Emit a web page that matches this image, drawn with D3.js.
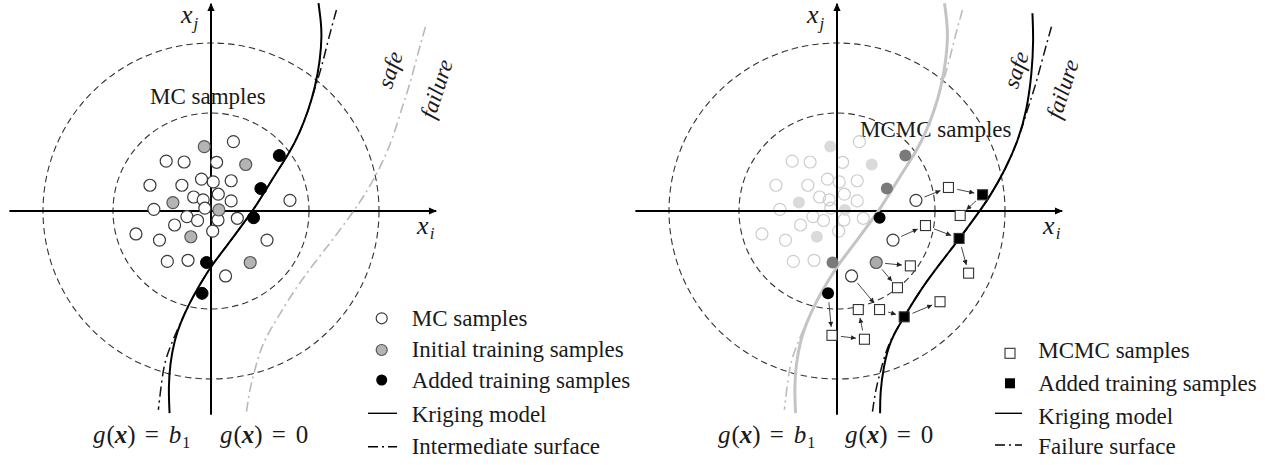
<!DOCTYPE html>
<html><head><meta charset="utf-8">
<script src="https://cdn.jsdelivr.net/npm/d3@7"></script>
<style>
body{margin:0;background:#fff;}
svg{display:block;}
text{font-family:"Liberation Serif","Times New Roman",serif;fill:#1a1a1a;}
</style></head><body>
<svg id="chart" width="1271" height="465"></svg>
<script>
// ---------- data: coordinates in standard-normal space (x_i, x_j) ----------
const contourRadii = [1.75, 3.0];
const axisExtentX = [-3.6, 4.02];
const axisExtentY = [-3.64, 3.7];

// Monte Carlo population
const mcSamples = [
  [0.40,1.24],[-0.80,0.89],[-0.48,0.875],[0.10,0.87],[-1.09,0.46],[-0.52,0.46],
  [-0.17,0.57],[0.04,0.52],[0.36,0.54],[-0.31,0.25],[0.13,0.30],[-0.14,0.20],
  [0.36,0.18],[1.41,0.19],[-1.02,0.03],[-0.11,0.05],[-0.43,-0.10],[-0.24,-0.17],
  [0.125,-0.16],[0.47,-0.13],[-0.65,-0.25],[0.03,-0.36],[-1.34,-0.41],[-0.92,-0.52],
  [1.00,-0.52],[-0.78,-0.90],[-0.41,-0.88],[0.26,-1.16]
];
const initialSamples = [[-0.12,1.15],[0.62,0.83],[-0.68,0.15],[0.14,0.02],[-0.36,-0.46],[0.70,-0.92]];
const addedSamplesStage1 = [[1.22,0.99],[0.89,0.40],[0.76,-0.12],[-0.08,-0.92],[-0.16,-1.47]];
// fill of the stage-1 added samples when shown again in stage 2
const addedStage1Fill = ["#7a7a7a","#7a7a7a","#000","#7a7a7a","#000"];

// limit-state curves
const krigingStage1 = [
  [1.92,3.71],[1.96,3.41],[1.98,3.14],[1.95,2.70],[1.86,2.21],[1.74,1.80],[1.58,1.39],
  [1.43,1.09],[1.12,0.61],[0.80,0.08],[0.58,-0.22],[0.27,-0.64],[0.02,-0.96],[-0.15,-1.23],
  [-0.39,-1.65],[-0.55,-2.01],[-0.65,-2.30],[-0.73,-2.72],[-0.76,-3.14],[-0.74,-3.61]
];
const intermediateSurface = [
  [2.24,3.59],[2.09,3.05],[1.98,2.58],[1.86,2.21],[1.74,1.80],[1.58,1.39],
  [1.43,1.09],[1.12,0.61],[0.80,0.08],[0.58,-0.22],[0.27,-0.64],[0.02,-0.96],[-0.15,-1.23],
  [-0.39,-1.65],[-0.55,-2.01],[-0.68,-2.30],[-0.82,-2.66],[-0.88,-3.02],[-0.94,-3.55]
];
const failureSurface = [
  [3.83,3.29],[3.68,2.76],[3.54,2.22],[3.41,1.85],[3.24,1.27],[3.00,0.73],[2.73,0.26],
  [2.52,-0.04],[2.17,-0.52],[1.56,-1.29],[1.20,-1.89],[0.95,-2.30],[0.84,-2.62],
  [0.74,-3.00],[0.68,-3.25],[0.63,-3.61]
];
const krigingStage2 = [
  [3.49,3.53],[3.51,3.05],[3.48,2.46],[3.39,1.80],[3.24,1.27],[3.00,0.73],[2.73,0.26],
  [2.52,-0.04],[2.17,-0.52],[1.56,-1.29],[1.20,-1.89],[0.95,-2.30],[0.83,-2.78],[0.77,-3.25],[0.77,-3.61]
];

// Markov chain samples and the added training points of stage 2
const mcmcSamples = [
  [1.99,0.42],[2.20,-0.08],[1.58,-0.26],[1.31,-0.98],[1.08,-1.37],[2.35,-1.11],
  [0.38,-1.76],[0.76,-1.76],[1.84,-1.62],[-0.09,-2.22],[0.49,-2.29]
];
const addedSamplesStage2 = [[2.60,0.29],[2.18,-0.49],[1.20,-1.89]];
const activeMC = [13,24,27];
const activeInitial = [5];
const mcmcMoves = [
  ["mc",13,"sq",0],["sq",0,"add2",0],["add2",0,"sq",1],
  ["mc",24,"sq",2],["sq",2,"add2",1],["add2",1,"sq",5],
  ["init",5,"sq",3],["init",5,"sq",4],
  ["mc",27,"sq",7],["sq",7,"add2",2],["add2",2,"sq",8],
  ["add1",4,"sq",9],["sq",9,"sq",10],["sq",10,"sq",6]
];

const legendLeft = ["MC samples","Initial training samples","Added training samples","Kriging model","Intermediate surface"];
const legendRight = ["MCMC samples","Added training samples","Kriging model","Failure surface"];

// ---------- drawing ----------
const svg = d3.select("#chart");
const UNIT = 56, OY = 211;
const DASHDOT = "10,4,2,4";

const defs = svg.append("defs");
defs.append("marker").attr("id","axisHead").attr("viewBox","0 0 10 10")
  .attr("refX",9).attr("refY",5).attr("markerWidth",9).attr("markerHeight",8)
  .attr("markerUnits","userSpaceOnUse").attr("orient","auto")
  .append("path").attr("d","M0,0.5 L10,5 L0,9.5 Z").attr("fill","#000");
defs.append("marker").attr("id","moveHead").attr("viewBox","0 0 10 10")
  .attr("refX",10).attr("refY",5).attr("markerWidth",6).attr("markerHeight",5)
  .attr("markerUnits","userSpaceOnUse").attr("orient","auto")
  .append("path").attr("d","M0,0 L10,5 L0,10 Z").attr("fill","#222");

function scales(ox){
  return {
    x: d3.scaleLinear().domain([-1,1]).range([ox-UNIT, ox+UNIT]),
    y: d3.scaleLinear().domain([-1,1]).range([OY+UNIT, OY-UNIT])
  };
}

function drawFrame(g, s){
  contourRadii.forEach(r => {
    g.append("circle").attr("cx", s.x(0)).attr("cy", s.y(0))
      .attr("r", s.x(r) - s.x(0))
      .attr("fill","none").attr("stroke","#333").attr("stroke-width",1.1)
      .attr("stroke-dasharray","6.5,4");
  });
}
function drawAxes(g, s){
  g.append("line").attr("x1", s.x(axisExtentX[0])).attr("x2", s.x(axisExtentX[1]))
    .attr("y1", s.y(0)).attr("y2", s.y(0))
    .attr("stroke","#000").attr("stroke-width",2).attr("marker-end","url(#axisHead)");
  g.append("line").attr("x1", s.x(0)).attr("x2", s.x(0))
    .attr("y1", s.y(axisExtentY[0])).attr("y2", s.y(axisExtentY[1]))
    .attr("stroke","#000").attr("stroke-width",2).attr("marker-end","url(#axisHead)");
  // axis names
  const xj = g.append("text").attr("x", s.x(0) - 30).attr("y", 23).attr("font-size",26);
  xj.append("tspan").attr("font-style","italic").text("x");
  xj.append("tspan").attr("font-style","italic").attr("font-size",17).attr("dy",6).attr("dx",1).text("j");
  const xi = g.append("text").attr("x", s.x(axisExtentX[1]) - 19).attr("y", 234).attr("font-size",26);
  xi.append("tspan").attr("font-style","italic").text("x");
  xi.append("tspan").attr("font-style","italic").attr("font-size",17).attr("dy",5).attr("dx",1).text("i");
}
const lineGen = s => d3.line().x(d => s.x(d[0])).y(d => s.y(d[1])).curve(d3.curveBasis);

function drawCurve(g, s, pts, stroke, width, dash){
  const p = g.append("path").attr("d", lineGen(s)(pts)).attr("fill","none")
    .attr("stroke", stroke).attr("stroke-width", width);
  if (dash) p.attr("stroke-dasharray", dash);
}
function circles(g, s, pts, fill, stroke, sw){
  g.selectAll(null).data(pts).enter().append("circle")
    .attr("cx", d => s.x(d[0])).attr("cy", d => s.y(d[1])).attr("r", 6)
    .attr("fill", fill).attr("stroke", stroke).attr("stroke-width", sw);
}
function squares(g, s, pts, fill){
  g.selectAll(null).data(pts).enter().append("rect")
    .attr("x", d => s.x(d[0]) - 5).attr("y", d => s.y(d[1]) - 5)
    .attr("width", 10).attr("height", 10)
    .attr("fill", fill).attr("stroke", "#333").attr("stroke-width", 1.1);
}
function regionLabels(g, s){
  g.append("text").attr("transform", `translate(${s.x(3.2)},${s.y(2.52)}) rotate(-72)`)
    .attr("text-anchor","middle").attr("dominant-baseline","central")
    .attr("font-size",23).attr("font-style","italic").text("safe");
  g.append("text").attr("transform", `translate(${s.x(4.03)},${s.y(2.18)}) rotate(-72)`)
    .attr("text-anchor","middle").attr("dominant-baseline","central")
    .attr("font-size",23).attr("font-style","italic").text("failure");
}
function surfaceLabels(g, x0){
  const a = g.append("text").attr("x", x0).attr("y", 443).attr("font-size",25);
  a.append("tspan").attr("font-style","italic").text("g");
  a.append("tspan").attr("dx",1).text("(");
  a.append("tspan").attr("font-style","italic").attr("font-weight","bold").text("x");
  a.append("tspan").text(")");
  a.append("tspan").attr("dx",9).text("=");
  a.append("tspan").attr("dx",10).attr("font-style","italic").text("b");
  a.append("tspan").attr("font-size",16).attr("dy",5).attr("dx",1).text("1");
  const b = g.append("text").attr("x", x0 + 127).attr("y", 443).attr("font-size",25);
  b.append("tspan").attr("font-style","italic").text("g");
  b.append("tspan").attr("dx",1).text("(");
  b.append("tspan").attr("font-style","italic").attr("font-weight","bold").text("x");
  b.append("tspan").text(")");
  b.append("tspan").attr("dx",9).text("=");
  b.append("tspan").attr("dx",10).text("0");
}

// ===== Stage 1: MC population with initial Kriging model =====
const L = svg.append("g");
const sL = scales(211);
drawFrame(L, sL);
L.append("text").attr("x",150).attr("y",104).attr("font-size",23).text("MC samples");
drawAxes(L, sL);
drawCurve(L, sL, failureSurface, "#b9b9b9", 1.6, DASHDOT);
drawCurve(L, sL, intermediateSurface, "#111", 1.5, DASHDOT);
drawCurve(L, sL, krigingStage1, "#000", 2);
circles(L, sL, mcSamples, "#fff", "#3a3a3a", 1.2);
circles(L, sL, initialSamples, "#b4b4b4", "#555", 1.2);
circles(L, sL, addedSamplesStage1, "#000", "#000", 1);
regionLabels(L, sL);
surfaceLabels(L, 93);

// left legend
const legL = L.append("g");
const bl = [326, 357, 388, 421.5, 454];
legL.append("circle").attr("cx",381.7).attr("cy",318.3).attr("r",5.5).attr("fill","#fff").attr("stroke","#3a3a3a").attr("stroke-width",1.2);
legL.append("circle").attr("cx",381.7).attr("cy",350).attr("r",5.5).attr("fill","#b4b4b4").attr("stroke","#555").attr("stroke-width",1.2);
legL.append("circle").attr("cx",381.7).attr("cy",380).attr("r",5.5).attr("fill","#000");
legL.append("line").attr("x1",368).attr("x2",397).attr("y1",413.3).attr("y2",413.3).attr("stroke","#000").attr("stroke-width",1.4);
legL.append("line").attr("x1",368).attr("x2",397).attr("y1",446.7).attr("y2",446.7).attr("stroke","#000").attr("stroke-width",1.4).attr("stroke-dasharray",DASHDOT);
legendLeft.forEach((t,i) => legL.append("text").attr("x",411.7).attr("y",bl[i]).attr("font-size",23).text(t));

// ===== Stage 2: MCMC refinement near the failure surface =====
const R = svg.append("g");
const sR = scales(837);
drawFrame(R, sR);
R.append("text").attr("x",860).attr("y",136.5).attr("font-size",23).text("MCMC samples");
// faded stage-1 population
circles(R, sR, mcSamples.filter((d,i) => !activeMC.includes(i)), "none", "#cdcdcd", 1.2);
circles(R, sR, initialSamples.filter((d,i) => !activeInitial.includes(i)), "#dadada", "none", 0);
drawAxes(R, sR);
drawCurve(R, sR, intermediateSurface, "#bdbdbd", 1.6, DASHDOT);
drawCurve(R, sR, krigingStage1, "#c4c4c4", 3);
drawCurve(R, sR, failureSurface, "#111", 1.5, DASHDOT);
drawCurve(R, sR, krigingStage2, "#000", 2);
R.selectAll(null).data(addedSamplesStage1).enter().append("circle")
  .attr("cx", d => sR.x(d[0])).attr("cy", d => sR.y(d[1])).attr("r", 6)
  .attr("fill", (d,i) => addedStage1Fill[i]);
circles(R, sR, activeMC.map(i => mcSamples[i]), "#fff", "#3a3a3a", 1.2);
circles(R, sR, activeInitial.map(i => initialSamples[i]), "#ababab", "#555", 1.2);

// chain moves
const pools = {mc: mcSamples, init: initialSamples, add1: addedSamplesStage1, sq: mcmcSamples, add2: addedSamplesStage2};
mcmcMoves.forEach(m => {
  const a = pools[m[0]][m[1]], b = pools[m[2]][m[3]];
  const x1 = sR.x(a[0]), y1 = sR.y(a[1]), x2 = sR.x(b[0]), y2 = sR.y(b[1]);
  const len = Math.hypot(x2-x1, y2-y1), ux = (x2-x1)/len, uy = (y2-y1)/len;
  const g0 = 9, g1 = 8.5;
  R.append("line").attr("x1", x1 + ux*g0).attr("y1", y1 + uy*g0)
    .attr("x2", x2 - ux*g1).attr("y2", y2 - uy*g1)
    .attr("stroke","#333").attr("stroke-width",0.9).attr("marker-end","url(#moveHead)");
});
squares(R, sR, mcmcSamples, "#fff");
squares(R, sR, addedSamplesStage2, "#000");
regionLabels(R, sR);
surfaceLabels(R, 718);

// right legend
const legR = R.append("g");
const br = [358.3, 391, 424, 454];
legR.append("rect").attr("x",1005).attr("y",348.3).attr("width",10).attr("height",10).attr("fill","#fff").attr("stroke","#333").attr("stroke-width",1.1);
legR.append("rect").attr("x",1005).attr("y",378.3).attr("width",10).attr("height",10).attr("fill","#000");
legR.append("line").attr("x1",995).attr("x2",1022).attr("y1",413.3).attr("y2",413.3).attr("stroke","#000").attr("stroke-width",1.4);
legR.append("line").attr("x1",995).attr("x2",1022).attr("y1",445).attr("y2",445).attr("stroke","#000").attr("stroke-width",1.4).attr("stroke-dasharray",DASHDOT);
legendRight.forEach((t,i) => legR.append("text").attr("x",1038.3).attr("y",br[i]).attr("font-size",23).text(t));
</script>
</body></html>
